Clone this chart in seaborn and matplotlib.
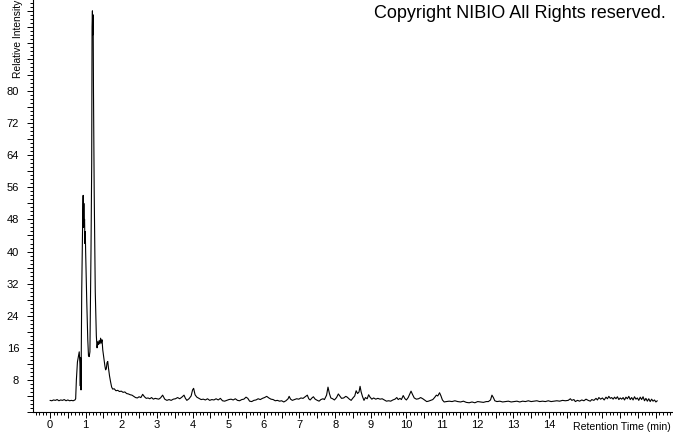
import numpy as np
import pandas as pd
import seaborn as sns
import matplotlib.pyplot as plt
from matplotlib.ticker import MultipleLocator, FuncFormatter

# retention time (min) and relative intensity
retention_time = [
    0.00, 0.05, 0.10, 0.15, 0.20, 0.25, 0.30, 0.35, 0.40, 0.45, 0.50, 0.55,
    0.60, 0.65, 0.70, 0.72, 0.74, 0.77, 0.80, 0.82, 0.84, 0.85, 0.86, 0.87,
    0.89, 0.92, 0.93, 0.94, 0.95, 0.96, 0.97, 0.98, 0.99, 1.00, 1.03, 1.06,
    1.08, 1.10, 1.12, 1.15, 1.17, 1.18, 1.19, 1.20, 1.21, 1.22, 1.24, 1.27,
    1.30, 1.32, 1.34, 1.36, 1.38, 1.40, 1.42, 1.44, 1.46, 1.48, 1.51, 1.54,
    1.56, 1.58, 1.60, 1.62, 1.64, 1.67, 1.70, 1.73, 1.76, 1.80, 1.85, 1.90,
    1.95, 2.00, 2.05, 2.10, 2.15, 2.20, 2.25, 2.30, 2.35, 2.40, 2.45, 2.50,
    2.55, 2.60, 2.65, 2.70, 2.75, 2.80, 2.85, 2.90, 2.95, 3.00, 3.05, 3.10,
    3.16, 3.22, 3.28, 3.34, 3.40, 3.46, 3.52, 3.58, 3.64, 3.70, 3.76, 3.80,
    3.84, 3.90, 3.96, 4.00, 4.03, 4.07, 4.12, 4.18, 4.24, 4.30, 4.36, 4.42,
    4.48, 4.54, 4.60, 4.66, 4.72, 4.78, 4.84, 4.90, 4.96, 5.02, 5.08, 5.14,
    5.20, 5.26, 5.32, 5.38, 5.44, 5.50, 5.55, 5.60, 5.66, 5.72, 5.78, 5.84,
    5.90, 5.96, 6.02, 6.08, 6.14, 6.20, 6.26, 6.32, 6.38, 6.44, 6.50, 6.56,
    6.62, 6.68, 6.71, 6.75, 6.80, 6.86, 6.92, 6.98, 7.04, 7.10, 7.16, 7.22,
    7.26, 7.30, 7.35, 7.39, 7.44, 7.50, 7.55, 7.60, 7.66, 7.70, 7.76, 7.80,
    7.84, 7.88, 7.93, 7.98, 8.04, 8.09, 8.14, 8.18, 8.24, 8.30, 8.34, 8.40,
    8.45, 8.50, 8.55, 8.59, 8.63, 8.67, 8.70, 8.73, 8.77, 8.81, 8.85, 8.90,
    8.94, 8.98, 9.03, 9.08, 9.14, 9.20, 9.26, 9.32, 9.38, 9.44, 9.50, 9.56,
    9.62, 9.68, 9.73, 9.77, 9.82, 9.86, 9.91, 9.96, 10.00, 10.05, 10.10, 10.13,
    10.17, 10.22, 10.28, 10.34, 10.40, 10.46, 10.52, 10.57, 10.62, 10.68, 10.74, 10.79,
    10.84, 10.88, 10.93, 10.97, 11.01, 11.06, 11.12, 11.20, 11.28, 11.36, 11.44, 11.52,
    11.60, 11.68, 11.76, 11.84, 11.92, 12.00, 12.08, 12.16, 12.24, 12.30, 12.36, 12.40,
    12.44, 12.48, 12.54, 12.62, 12.70, 12.78, 12.86, 12.94, 13.02, 13.10, 13.18, 13.26,
    13.34, 13.42, 13.50, 13.58, 13.66, 13.74, 13.82, 13.90, 13.98, 14.06, 14.14, 14.22,
    14.30, 14.38, 14.46, 14.54, 14.60, 14.64, 14.70, 14.74, 14.80, 14.86, 14.92, 14.98,
    15.04, 15.10, 15.16, 15.20, 15.26, 15.32, 15.36, 15.40, 15.45, 15.50, 15.55, 15.60,
    15.64, 15.68, 15.72, 15.76, 15.80, 15.84, 15.88, 15.92, 15.96, 16.00, 16.04, 16.08,
    16.12, 16.16, 16.20, 16.24, 16.28, 16.32, 16.36, 16.40, 16.44, 16.48, 16.52, 16.56,
    16.60, 16.64, 16.68, 16.72, 16.76, 16.80, 16.84, 16.88, 16.92, 16.96, 17.00, 17.04,
]
intensity = [
    2.9, 2.8, 3.0, 2.9, 3.1, 2.8, 3.0, 2.9, 3.1, 2.8, 3.0, 2.8,
    2.9, 2.8, 3.0, 3.3, 8.0, 12.5, 14.0, 15.0, 12.0, 6.5, 13.5, 5.5,
    30.0, 50.0, 54.0, 46.0, 52.0, 47.0, 48.0, 42.0, 45.0, 40.0, 28.0, 18.0,
    14.0, 13.8, 15.0, 40.0, 62.0, 96.0, 100.0, 94.0, 99.0, 80.0, 55.0, 30.0,
    19.0, 16.0, 17.5, 16.8, 17.8, 17.0, 18.4, 17.2, 18.0, 15.5, 13.5, 11.5,
    10.5, 10.8, 12.3, 12.6, 11.0, 9.0, 7.5, 6.2, 5.7, 5.8, 5.3, 5.4,
    5.1, 5.2, 4.9, 5.0, 4.6, 4.5, 4.3, 4.2, 3.9, 3.6, 3.5, 3.8,
    3.6, 4.4, 3.8, 3.4, 3.5, 3.3, 3.6, 3.2, 3.4, 3.3, 3.2, 3.5,
    4.2, 3.2, 2.9, 3.1, 2.9, 3.2, 3.3, 3.6, 3.3, 3.7, 4.2, 3.4,
    2.9, 3.3, 4.0, 5.5, 5.9, 4.3, 3.7, 3.4, 3.1, 3.2, 3.0, 3.3,
    2.9, 3.1, 3.0, 3.3, 3.0, 3.4, 2.8, 2.7, 2.9, 3.1, 3.2, 3.0,
    3.3, 2.9, 2.8, 3.1, 3.2, 3.7, 3.4, 2.7, 2.6, 2.9, 3.0, 3.3,
    3.1, 3.4, 3.6, 3.9, 3.5, 3.2, 3.1, 2.8, 2.9, 2.7, 2.8, 2.5,
    2.8, 3.3, 3.9, 3.2, 2.9, 3.1, 3.3, 3.2, 3.5, 3.4, 3.8, 4.2,
    3.3, 3.0, 3.5, 3.8, 3.2, 2.9, 2.7, 3.1, 3.3, 3.1, 4.2, 6.2,
    4.6, 3.5, 3.3, 3.0, 3.6, 4.5, 3.9, 3.4, 3.5, 3.9, 3.7, 3.2,
    2.9, 3.5, 4.0, 5.3, 4.6, 5.0, 6.4, 5.0, 3.8, 2.9, 3.6, 3.3,
    4.3, 3.7, 3.2, 3.5, 3.2, 3.4, 3.2, 3.3, 3.0, 2.7, 2.8, 2.7,
    3.0, 3.2, 3.6, 3.1, 3.4, 3.1, 4.1, 3.3, 3.0, 3.6, 4.6, 5.2,
    4.4, 3.5, 3.2, 3.3, 3.6, 3.3, 2.9, 2.6, 2.7, 2.9, 3.1, 3.6,
    4.2, 4.0, 4.8, 4.0, 3.0, 2.5, 2.6, 2.7, 2.6, 2.8, 2.6, 2.5,
    2.7, 2.4, 2.3, 2.5, 2.3, 2.6, 2.5, 2.4, 2.6, 2.6, 3.0, 4.2,
    3.6, 2.8, 2.6, 2.7, 2.5, 2.6, 2.7, 2.5, 2.6, 2.7, 2.5, 2.7,
    2.6, 2.8, 2.6, 2.7, 2.8, 2.6, 2.7, 2.6, 2.8, 2.6, 2.7, 2.8,
    2.7, 2.9, 2.8, 2.9, 3.3, 2.9, 3.1, 2.6, 2.9, 2.7, 3.0, 2.8,
    3.2, 2.9, 2.7, 3.1, 2.9, 3.4, 3.0, 3.6, 3.2, 3.5, 3.0, 3.7,
    3.3, 3.9, 3.4, 3.6, 3.2, 3.7, 3.3, 3.8, 3.1, 3.5, 3.2, 3.6,
    3.0, 3.7, 3.3, 3.9, 3.1, 3.6, 3.0, 3.8, 3.2, 3.5, 2.9, 3.7,
    3.1, 3.8, 2.8, 3.4, 2.7, 3.3, 2.6, 3.2, 2.7, 3.0, 2.5, 2.8,
]

y_label_ticks = [8, 16, 24, 32, 40, 48, 56, 64, 72, 80]
x_label_ticks = list(range(0, 15))

df = pd.DataFrame({"time": retention_time, "intensity": intensity})

sns.set_style("white")
plt.rcParams["font.family"] = ["Liberation Sans", "DejaVu Sans"]
plt.rcParams["text.color"] = "black"

fig = plt.figure(figsize=(6.73, 4.33), dpi=100)
ax = fig.add_axes([33 / 673, 21 / 433, 640 / 673, 412 / 433])

sns.lineplot(data=df, x="time", y="intensity", ax=ax, color="black",
             linewidth=0.8, estimator=None, sort=False)

ax.set_xlim(-0.477, 17.48)
ax.set_ylim(0, 102.7)

# y ticks: minor each unit, major each 4, labels each 8
ax.yaxis.set_major_locator(MultipleLocator(4))
ax.yaxis.set_minor_locator(MultipleLocator(1))
ax.yaxis.set_major_formatter(FuncFormatter(
    lambda v, p: f"{int(round(v))}" if int(round(v)) in y_label_ticks else ""))

# x ticks: minor each 0.1, major each 0.5, labels at whole minutes up to 14
ax.xaxis.set_major_locator(MultipleLocator(0.5))
ax.xaxis.set_minor_locator(MultipleLocator(0.1))
ax.xaxis.set_major_formatter(FuncFormatter(
    lambda v, p: f"{int(round(v))}" if abs(v - round(v)) < 1e-6 and int(round(v)) in x_label_ticks else ""))

ax.tick_params(which="major", direction="out", length=4, width=0.7,
               color="black", labelcolor="black", labelsize=8, pad=2,
               bottom=True, left=True)
ax.tick_params(which="minor", direction="out", length=2, width=0.7,
               color="black", bottom=True, left=True)
ax.tick_params(axis="y", which="major", pad=6)

for side in ["top", "right"]:
    ax.spines[side].set_visible(False)
for side in ["left", "bottom"]:
    ax.spines[side].set_color("black")
    ax.spines[side].set_linewidth(0.8)

ax.set_xlabel("")
ax.set_ylabel("")

fig.text(671 / 673, 1 - 427 / 433, "Retention Time (min)", fontsize=7.6,
         ha="right", va="center", color="black")
fig.text(18 / 673, 1 - 78 / 433, "Relative Intensity", fontsize=7.4,
         rotation=90, ha="center", va="bottom", color="black")
fig.text(666 / 673, 1 - 14 / 433, "Copyright NIBIO All Rights reserved.",
         fontsize=13, ha="right", va="center", color="black")

fig.savefig("out.png", dpi=100)
